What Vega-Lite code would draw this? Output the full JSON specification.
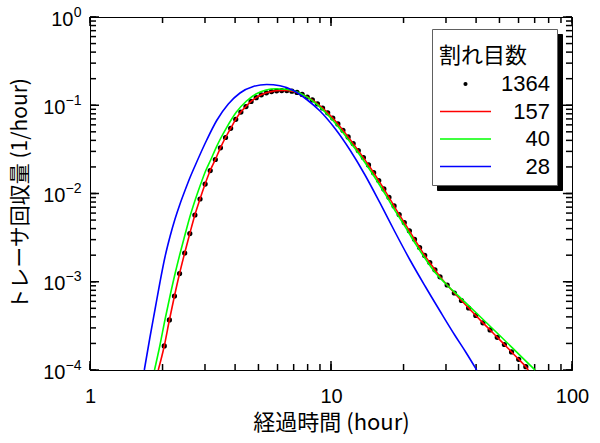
{
  "$schema": "https://vega.github.io/schema/vega-lite/v6.json",
  "width": 482,
  "height": 353,
  "autosize": {"type": "none"},
  "padding": {"left": 90, "top": 17, "right": 28, "bottom": 73},
  "background": "white",
  "config": {
    "view": {"stroke": "black", "strokeWidth": 1},
    "axis": {"grid": false, "domainColor": "black", "domainWidth": 1, "labelColor": "black", "titleColor": "black", "labelFlush": false, "labelOverlap": false, "labelBound": false}
  },
  "datasets": {
    "xticks": [
      {"t": 1}, {"t": 2}, {"t": 3}, {"t": 4}, {"t": 5}, {"t": 6}, {"t": 7}, {"t": 8}, {"t": 9},
      {"t": 10}, {"t": 20}, {"t": 30}, {"t": 40}, {"t": 50}, {"t": 60}, {"t": 70}, {"t": 80}, {"t": 90}, {"t": 100}
    ],
    "yticks": [
      {"c": 0.0001}, {"c": 0.0002}, {"c": 0.0003}, {"c": 0.0004}, {"c": 0.0005}, {"c": 0.0006}, {"c": 0.0007}, {"c": 0.0008}, {"c": 0.0009},
      {"c": 0.001}, {"c": 0.002}, {"c": 0.003}, {"c": 0.004}, {"c": 0.005}, {"c": 0.006}, {"c": 0.007}, {"c": 0.008}, {"c": 0.009},
      {"c": 0.01}, {"c": 0.02}, {"c": 0.03}, {"c": 0.04}, {"c": 0.05}, {"c": 0.06}, {"c": 0.07}, {"c": 0.08}, {"c": 0.09},
      {"c": 0.1}, {"c": 0.2}, {"c": 0.3}, {"c": 0.4}, {"c": 0.5}, {"c": 0.6}, {"c": 0.7}, {"c": 0.8}, {"c": 0.9}, {"c": 1}
    ],
    "dots": [
      {"t": 2.033, "c": 1.871e-4, "series": "1364"},
      {"t": 2.135, "c": 3.687e-4, "series": "1364"},
      {"t": 2.241, "c": 6.894e-4, "series": "1364"},
      {"t": 2.353, "c": 1.240e-3, "series": "1364"},
      {"t": 2.471, "c": 2.117e-3, "series": "1364"},
      {"t": 2.595, "c": 3.521e-3, "series": "1364"},
      {"t": 2.724, "c": 5.706e-3, "series": "1364"},
      {"t": 2.861, "c": 8.664e-3, "series": "1364"},
      {"t": 3.004, "c": 1.281e-2, "series": "1364"},
      {"t": 3.154, "c": 1.822e-2, "series": "1364"},
      {"t": 3.312, "c": 2.428e-2, "series": "1364"},
      {"t": 3.477, "c": 3.294e-2, "series": "1364"},
      {"t": 3.651, "c": 4.311e-2, "series": "1364"},
      {"t": 3.834, "c": 5.481e-2, "series": "1364"},
      {"t": 4.025, "c": 6.930e-2, "series": "1364"},
      {"t": 4.227, "c": 8.364e-2, "series": "1364"},
      {"t": 4.438, "c": 0.09678, "series": "1364"},
      {"t": 4.660, "c": 0.1105, "series": "1364"},
      {"t": 4.893, "c": 0.1218, "series": "1364"},
      {"t": 5.138, "c": 0.1314, "series": "1364"},
      {"t": 5.394, "c": 0.1384, "series": "1364"},
      {"t": 5.664, "c": 0.1428, "series": "1364"},
      {"t": 5.947, "c": 0.1458, "series": "1364"},
      {"t": 6.245, "c": 0.1469, "series": "1364"},
      {"t": 6.557, "c": 0.1469, "series": "1364"},
      {"t": 6.885, "c": 0.1443, "series": "1364"},
      {"t": 7.229, "c": 0.1395, "series": "1364"},
      {"t": 7.590, "c": 0.1324, "series": "1364"},
      {"t": 7.970, "c": 0.1240, "series": "1364"},
      {"t": 8.368, "c": 0.1147, "series": "1364"},
      {"t": 8.787, "c": 0.1038, "series": "1364"},
      {"t": 9.226, "c": 0.09307, "series": "1364"},
      {"t": 9.688, "c": 0.08211, "series": "1364"},
      {"t": 10.17, "c": 0.07168, "series": "1364"},
      {"t": 10.68, "c": 0.06132, "series": "1364"},
      {"t": 11.21, "c": 0.05201, "series": "1364"},
      {"t": 11.78, "c": 0.04368, "series": "1364"},
      {"t": 12.36, "c": 0.03676, "series": "1364"},
      {"t": 12.98, "c": 0.03062, "series": "1364"},
      {"t": 13.63, "c": 0.02551, "series": "1364"},
      {"t": 14.31, "c": 0.02104, "series": "1364"},
      {"t": 15.03, "c": 0.01720, "series": "1364"},
      {"t": 15.78, "c": 0.01400, "series": "1364"},
      {"t": 16.57, "c": 0.01127, "series": "1364"},
      {"t": 17.40, "c": 9.054e-3, "series": "1364"},
      {"t": 18.27, "c": 7.218e-3, "series": "1364"},
      {"t": 19.18, "c": 5.781e-3, "series": "1364"},
      {"t": 20.14, "c": 4.681e-3, "series": "1364"},
      {"t": 21.15, "c": 3.778e-3, "series": "1364"},
      {"t": 22.21, "c": 3.027e-3, "series": "1364"},
      {"t": 23.32, "c": 2.444e-3, "series": "1364"},
      {"t": 24.48, "c": 1.988e-3, "series": "1364"},
      {"t": 25.70, "c": 1.648e-3, "series": "1364"},
      {"t": 26.99, "c": 1.366e-3, "series": "1364"},
      {"t": 28.34, "c": 1.137e-3, "series": "1364"},
      {"t": 30.34, "c": 9.187e-4, "series": "1364"},
      {"t": 32.49, "c": 7.457e-4, "series": "1364"},
      {"t": 34.78, "c": 6.131e-4, "series": "1364"},
      {"t": 37.24, "c": 5.041e-4, "series": "1364"},
      {"t": 39.88, "c": 4.145e-4, "series": "1364"},
      {"t": 42.70, "c": 3.425e-4, "series": "1364"},
      {"t": 45.72, "c": 2.840e-4, "series": "1364"},
      {"t": 48.95, "c": 2.347e-4, "series": "1364"},
      {"t": 52.41, "c": 1.945e-4, "series": "1364"},
      {"t": 56.12, "c": 1.600e-4, "series": "1364"},
      {"t": 60.09, "c": 1.322e-4, "series": "1364"},
      {"t": 64.33, "c": 1.090e-4, "series": "1364"}
    ],
    "red": [
      {"t": 1.920, "c": 1.0e-4},
      {"t": 2.033, "c": 1.871e-4},
      {"t": 2.135, "c": 3.687e-4},
      {"t": 2.241, "c": 6.894e-4},
      {"t": 2.353, "c": 1.240e-3},
      {"t": 2.471, "c": 2.117e-3},
      {"t": 2.595, "c": 3.521e-3},
      {"t": 2.724, "c": 5.706e-3},
      {"t": 2.861, "c": 8.664e-3},
      {"t": 3.004, "c": 1.281e-2},
      {"t": 3.154, "c": 1.822e-2},
      {"t": 3.312, "c": 2.428e-2},
      {"t": 3.477, "c": 3.294e-2},
      {"t": 3.651, "c": 4.311e-2},
      {"t": 3.834, "c": 5.481e-2},
      {"t": 4.025, "c": 6.930e-2},
      {"t": 4.227, "c": 8.364e-2},
      {"t": 4.438, "c": 0.09678},
      {"t": 4.660, "c": 0.1105},
      {"t": 4.893, "c": 0.1218},
      {"t": 5.138, "c": 0.1314},
      {"t": 5.394, "c": 0.1384},
      {"t": 5.664, "c": 0.1428},
      {"t": 5.947, "c": 0.1458},
      {"t": 6.245, "c": 0.1469},
      {"t": 6.557, "c": 0.1469},
      {"t": 6.885, "c": 0.1443},
      {"t": 7.229, "c": 0.1395},
      {"t": 7.590, "c": 0.1324},
      {"t": 7.970, "c": 0.1240},
      {"t": 8.368, "c": 0.1147},
      {"t": 8.787, "c": 0.1038},
      {"t": 9.226, "c": 0.09307},
      {"t": 9.688, "c": 0.08211},
      {"t": 10.17, "c": 0.07168},
      {"t": 10.68, "c": 0.06132},
      {"t": 11.21, "c": 0.05201},
      {"t": 11.78, "c": 0.04368},
      {"t": 12.36, "c": 0.03676},
      {"t": 12.98, "c": 0.03062},
      {"t": 13.63, "c": 0.02551},
      {"t": 14.31, "c": 0.02104},
      {"t": 15.03, "c": 0.01720},
      {"t": 15.78, "c": 0.01400},
      {"t": 16.57, "c": 0.01127},
      {"t": 17.40, "c": 9.054e-3},
      {"t": 18.27, "c": 7.218e-3},
      {"t": 19.18, "c": 5.781e-3},
      {"t": 20.14, "c": 4.681e-3},
      {"t": 21.15, "c": 3.778e-3},
      {"t": 22.21, "c": 3.027e-3},
      {"t": 23.32, "c": 2.444e-3},
      {"t": 24.48, "c": 1.988e-3},
      {"t": 25.70, "c": 1.648e-3},
      {"t": 26.99, "c": 1.366e-3},
      {"t": 28.34, "c": 1.137e-3},
      {"t": 30.34, "c": 9.187e-4},
      {"t": 32.49, "c": 7.457e-4},
      {"t": 34.78, "c": 6.131e-4},
      {"t": 37.24, "c": 5.041e-4},
      {"t": 39.88, "c": 4.145e-4},
      {"t": 42.70, "c": 3.425e-4},
      {"t": 45.72, "c": 2.840e-4},
      {"t": 48.95, "c": 2.347e-4},
      {"t": 52.41, "c": 1.945e-4},
      {"t": 56.12, "c": 1.600e-4},
      {"t": 60.09, "c": 1.322e-4},
      {"t": 64.33, "c": 1.090e-4},
      {"t": 65.88, "c": 1.0e-4}
    ],
    "green": [
      {"t": 1.852, "c": 1.0e-4},
      {"t": 1.948, "c": 1.871e-4},
      {"t": 2.046, "c": 3.687e-4},
      {"t": 2.148, "c": 6.894e-4},
      {"t": 2.255, "c": 1.240e-3},
      {"t": 2.367, "c": 2.117e-3},
      {"t": 2.486, "c": 3.521e-3},
      {"t": 2.610, "c": 5.706e-3},
      {"t": 2.740, "c": 8.664e-3},
      {"t": 2.880, "c": 1.281e-2},
      {"t": 3.023, "c": 1.822e-2},
      {"t": 3.174, "c": 2.428e-2},
      {"t": 3.333, "c": 3.294e-2},
      {"t": 3.499, "c": 4.311e-2},
      {"t": 3.674, "c": 5.481e-2},
      {"t": 4.050, "c": 8.364e-2},
      {"t": 4.460, "c": 0.1117},
      {"t": 4.884, "c": 0.1341},
      {"t": 5.374, "c": 0.1489},
      {"t": 5.913, "c": 0.1540},
      {"t": 6.505, "c": 0.1520},
      {"t": 7.158, "c": 0.1435},
      {"t": 7.875, "c": 0.1259},
      {"t": 8.665, "c": 0.1044},
      {"t": 9.533, "c": 0.08169},
      {"t": 10.49, "c": 0.06148},
      {"t": 11.54, "c": 0.04413},
      {"t": 12.70, "c": 0.03127},
      {"t": 13.97, "c": 0.02159},
      {"t": 15.37, "c": 0.01452},
      {"t": 16.91, "c": 9.516e-3},
      {"t": 18.61, "c": 6.140e-3},
      {"t": 20.48, "c": 4.045e-3},
      {"t": 22.53, "c": 2.630e-3},
      {"t": 24.79, "c": 1.773e-3},
      {"t": 27.27, "c": 1.237e-3},
      {"t": 30.00, "c": 9.430e-4},
      {"t": 34.30, "c": 6.664e-4},
      {"t": 41.52, "c": 4.038e-4},
      {"t": 50.26, "c": 2.447e-4},
      {"t": 60.84, "c": 1.467e-4},
      {"t": 70.22, "c": 1.0e-4}
    ],
    "blue": [
      {"t": 1.680, "c": 1.0e-4},
      {"t": 1.774, "c": 2.365e-4},
      {"t": 1.861, "c": 4.850e-4},
      {"t": 1.952, "c": 9.935e-4},
      {"t": 2.047, "c": 1.907e-3},
      {"t": 2.148, "c": 3.256e-3},
      {"t": 2.253, "c": 5.142e-3},
      {"t": 2.363, "c": 7.604e-3},
      {"t": 2.478, "c": 1.081e-2},
      {"t": 2.600, "c": 1.518e-2},
      {"t": 2.772, "c": 2.275e-2},
      {"t": 3.050, "c": 4.038e-2},
      {"t": 3.355, "c": 6.716e-2},
      {"t": 3.749, "c": 0.1033},
      {"t": 4.192, "c": 0.1377},
      {"t": 4.760, "c": 0.1632},
      {"t": 5.410, "c": 0.1718},
      {"t": 6.143, "c": 0.1661},
      {"t": 6.975, "c": 0.1469},
      {"t": 7.928, "c": 0.1162},
      {"t": 9.002, "c": 0.08607},
      {"t": 10.39, "c": 0.05452},
      {"t": 11.99, "c": 0.03111},
      {"t": 13.84, "c": 0.01621},
      {"t": 15.97, "c": 7.806e-3},
      {"t": 18.43, "c": 3.662e-3},
      {"t": 21.27, "c": 1.764e-3},
      {"t": 24.55, "c": 8.950e-4},
      {"t": 28.33, "c": 4.662e-4},
      {"t": 32.70, "c": 2.460e-4},
      {"t": 36.32, "c": 1.579e-4},
      {"t": 40.23, "c": 1.0e-4}
    ]
  },
  "resolve": {"axis": {"x": "independent", "y": "independent"}},
  "layer": [
    {
      "data": {"name": "xticks"},
      "mark": {"type": "rule", "color": "black", "strokeWidth": 1.5, "opacity": 1},
      "encoding": {
        "x": {"field": "t", "type": "quantitative", "scale": {"type": "log", "domain": [1, 100]}, "axis": null},
        "y": {"datum": 0.0001, "type": "quantitative", "scale": {"type": "log", "domain": [0.0001, 1]}, "axis": null},
        "y2": {"datum": 0.0001169}
      }
    },
    {
      "data": {"name": "xticks"},
      "mark": {"type": "rule", "color": "black", "strokeWidth": 1.5, "opacity": 1},
      "encoding": {
        "x": {"field": "t", "type": "quantitative", "scale": {"type": "log", "domain": [1, 100]}, "axis": null},
        "y": {"datum": 1, "type": "quantitative", "scale": {"type": "log", "domain": [0.0001, 1]}, "axis": null},
        "y2": {"datum": 0.855}
      }
    },
    {
      "data": {"name": "xticks"},
      "transform": [{"filter": "datum.t == 1 || datum.t == 10 || datum.t == 100"}],
      "mark": {"type": "rule", "color": "black", "strokeWidth": 1.5, "opacity": 1},
      "encoding": {
        "x": {"field": "t", "type": "quantitative", "scale": {"type": "log", "domain": [1, 100]}, "axis": null},
        "y": {"datum": 0.0001, "type": "quantitative", "scale": {"type": "log", "domain": [0.0001, 1]}, "axis": null},
        "y2": {"datum": 0.0001265}
      }
    },
    {
      "data": {"name": "xticks"},
      "transform": [{"filter": "datum.t == 1 || datum.t == 10 || datum.t == 100"}],
      "mark": {"type": "rule", "color": "black", "strokeWidth": 1.5, "opacity": 1},
      "encoding": {
        "x": {"field": "t", "type": "quantitative", "scale": {"type": "log", "domain": [1, 100]}, "axis": null},
        "y": {"datum": 1, "type": "quantitative", "scale": {"type": "log", "domain": [0.0001, 1]}, "axis": null},
        "y2": {"datum": 0.79}
      }
    },
    {
      "data": {"name": "yticks"},
      "mark": {"type": "rule", "color": "black", "strokeWidth": 1.5, "opacity": 1},
      "encoding": {
        "y": {"field": "c", "type": "quantitative", "scale": {"type": "log", "domain": [0.0001, 1]}, "axis": null},
        "x": {"datum": 1, "type": "quantitative", "scale": {"type": "log", "domain": [1, 100]}, "axis": null},
        "x2": {"datum": 1.059}
      }
    },
    {
      "data": {"name": "yticks"},
      "mark": {"type": "rule", "color": "black", "strokeWidth": 1.5, "opacity": 1},
      "encoding": {
        "y": {"field": "c", "type": "quantitative", "scale": {"type": "log", "domain": [0.0001, 1]}, "axis": null},
        "x": {"datum": 100, "type": "quantitative", "scale": {"type": "log", "domain": [1, 100]}, "axis": null},
        "x2": {"datum": 94.4}
      }
    },
    {
      "data": {"name": "yticks"},
      "transform": [{"filter": "datum.c == 0.0001 || datum.c == 0.001 || datum.c == 0.01 || datum.c == 0.1 || datum.c == 1"}],
      "mark": {"type": "rule", "color": "black", "strokeWidth": 1.5, "opacity": 1},
      "encoding": {
        "y": {"field": "c", "type": "quantitative", "scale": {"type": "log", "domain": [0.0001, 1]}, "axis": null},
        "x": {"datum": 1, "type": "quantitative", "scale": {"type": "log", "domain": [1, 100]}, "axis": null},
        "x2": {"datum": 1.09}
      }
    },
    {
      "data": {"name": "yticks"},
      "transform": [{"filter": "datum.c == 0.0001 || datum.c == 0.001 || datum.c == 0.01 || datum.c == 0.1 || datum.c == 1"}],
      "mark": {"type": "rule", "color": "black", "strokeWidth": 1.5, "opacity": 1},
      "encoding": {
        "y": {"field": "c", "type": "quantitative", "scale": {"type": "log", "domain": [0.0001, 1]}, "axis": null},
        "x": {"datum": 100, "type": "quantitative", "scale": {"type": "log", "domain": [1, 100]}, "axis": null},
        "x2": {"datum": 91.7}
      }
    },
    {
      "data": {"name": "dots"},
      "mark": {"type": "point", "filled": false, "fill": "black", "fillOpacity": 1, "size": 14, "strokeWidth": 1.5, "opacity": 1},
      "encoding": {
        "x": {"field": "t", "type": "quantitative", "scale": {"type": "log", "domain": [1, 100]}, "axis": null},
        "y": {
          "field": "c", "type": "quantitative", "scale": {"type": "log", "domain": [0.0001, 1]},
          "axis": {
            "orient": "left", "values": [0.0001, 0.001, 0.01, 0.1, 1], "ticks": false, "domain": false,
            "labelExpr": "datum.value > 0.5 ? '0' : '−' + format(-round(log(datum.value) / LN10), 'd')",
            "labelFont": "Liberation Sans", "labelFontSize": 14, "labelAlign": "right", "labelBaseline": "middle",
            "labelPadding": 9, "labelOffset": -5, "title": null
          }
        },
        "color": {
          "field": "series", "type": "nominal",
          "scale": {"domain": ["1364", "157", "40", "28"], "range": ["#000000", "#ff0000", "#00ff00", "#0000ff"]},
          "legend": {
            "orient": "none", "legendX": 342, "legendY": 12, "zindex": 2, "direction": "vertical",
            "title": "割れ目数", "titleFont": "Noto Sans CJK JP", "titleFontSize": 22, "titleFontWeight": "normal", "titleColor": "black", "titleAnchor": "start",
            "titleBaseline": "line-top", "titleLineHeight": 42, "titlePadding": 15,
            "labelFont": "Liberation Sans", "labelFontSize": 22, "labelColor": "black", "labelAlign": "right", "labelOffset": 58, "labelLimit": 200,
            "symbolType": {"expr": "datum.value === '1364' ? 'M-0.05,0A0.05,0.05,0,1,0,0.05,0A0.05,0.05,0,1,0,-0.05,0Z' : 'stroke'"},
            "symbolSize": 2601, "symbolStrokeWidth": 1.6, "symbolOpacity": 1,
            "clipHeight": 22, "rowPadding": 5.5, "padding": 7,
            "fillColor": "white", "strokeColor": "#606060", "cornerRadius": 0
          }
        },
        "opacity": {
          "field": "series", "type": "nominal",
          "scale": {"domain": ["28", "40", "157", "1364"], "range": [1, 1, 1, 1]},
          "legend": {
            "orient": "none", "legendX": 347, "legendY": 17, "zindex": 1, "direction": "vertical",
            "title": "割れ目数", "titleFont": "Noto Sans CJK JP", "titleFontSize": 22, "titleFontWeight": "normal", "titleColor": "black", "titleOpacity": 0, "titleAnchor": "start",
            "titleBaseline": "line-top", "titleLineHeight": 42, "titlePadding": 15,
            "labelFont": "Liberation Sans", "labelFontSize": 22, "labelColor": "black", "labelOpacity": 0, "labelAlign": "right", "labelOffset": 58, "labelLimit": 200,
            "symbolType": "stroke", "symbolSize": 2601, "symbolStrokeWidth": 1.6, "symbolStrokeColor": "black", "symbolFillColor": "black", "symbolOpacity": 0,
            "clipHeight": 22, "rowPadding": 5.5, "padding": 7,
            "fillColor": "black", "strokeColor": "black", "cornerRadius": 0
          }
        }
      }
    },
    {
      "data": {"name": "red"},
      "mark": {"type": "line", "color": "#ff0000", "strokeWidth": 1.6, "interpolate": "monotone"},
      "encoding": {
        "x": {
          "field": "t", "type": "quantitative", "scale": {"type": "log", "domain": [1, 100]},
          "axis": {
            "orient": "bottom", "values": [1, 10, 100], "ticks": false, "domain": true,
            "labelExpr": "format(datum.value, 'd')",
            "labelFont": "Liberation Sans", "labelFontSize": 20, "labelPadding": 16,
            "title": "経過時間 (hour)", "titleFont": "Noto Sans CJK JP", "titleFontSize": 22, "titleFontWeight": "normal", "titlePadding": 6
          }
        },
        "y": {
          "field": "c", "type": "quantitative", "scale": {"type": "log", "domain": [0.0001, 1]},
          "axis": {
            "orient": "left", "values": [0.0001, 0.001, 0.01, 0.1, 1], "ticks": false, "domain": true,
            "labelExpr": "'10'",
            "labelFont": "Liberation Sans", "labelFontSize": 20, "labelAlign": "right", "labelBaseline": "middle",
            "labelPadding": {"condition": {"test": "datum.value > 0.5", "value": 17}, "value": 25},
            "labelOffset": 2,
            "title": "トレーサ回収量 (1/hour)", "titleFont": "Noto Sans CJK JP", "titleFontSize": 21, "titleFontWeight": "normal", "titlePadding": 12
          }
        }
      }
    },
    {
      "data": {"name": "green"},
      "mark": {"type": "line", "color": "#00ff00", "strokeWidth": 1.6, "interpolate": "monotone"},
      "encoding": {
        "x": {"field": "t", "type": "quantitative", "scale": {"type": "log", "domain": [1, 100]}, "axis": null},
        "y": {"field": "c", "type": "quantitative", "scale": {"type": "log", "domain": [0.0001, 1]}, "axis": null}
      }
    },
    {
      "data": {"name": "blue"},
      "mark": {"type": "line", "color": "#0000ff", "strokeWidth": 1.6, "interpolate": "monotone"},
      "encoding": {
        "x": {"field": "t", "type": "quantitative", "scale": {"type": "log", "domain": [1, 100]}, "axis": null},
        "y": {"field": "c", "type": "quantitative", "scale": {"type": "log", "domain": [0.0001, 1]}, "axis": null}
      }
    }
  ]
}
